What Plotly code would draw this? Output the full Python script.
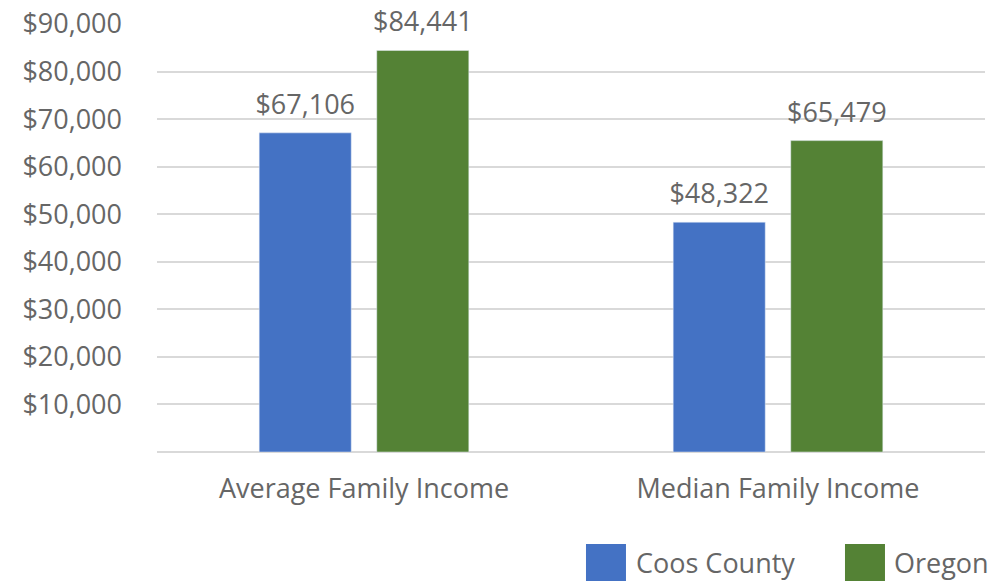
import plotly.graph_objects as go

categories = ["Average Family Income", "Median Family Income"]
series_names = ["Coos County", "Oregon"]
coos_values = [67106, 48322]
oregon_values = [84441, 65479]
colors = ["#4472C4", "#548235"]
tick_values = [10000, 20000, 30000, 40000, 50000, 60000, 70000, 80000, 90000]
tick_labels = ["$10,000", "$20,000", "$30,000", "$40,000", "$50,000",
               "$60,000", "$70,000", "$80,000", "$90,000"]

FONT = "Open Sans"
TEXT_COLOR = "#666666"
FS = 27

fig = go.Figure()
for i, (name, vals, col) in enumerate(zip(series_names, [coos_values, oregon_values], colors)):
    fig.add_trace(go.Bar(
        x=categories, y=vals, name=name, marker_color=col,
        offsetgroup=str(i), alignmentgroup="a",
        showlegend=False, hoverinfo="skip",
    ))
for i, vals in enumerate([coos_values, oregon_values]):
    fig.add_trace(go.Scatter(
        x=categories, y=vals, mode="markers+text",
        text=[f"${v:,}" for v in vals], textposition="top center",
        textfont=dict(family=FONT, size=FS, color=TEXT_COLOR),
        marker=dict(size=18, opacity=0),
        offsetgroup=str(i), alignmentgroup="a",
        cliponaxis=False, showlegend=False, hoverinfo="skip",
    ))

# Custom legend (large squares) built from the series lists
legend_box = [(0.5181, 0.5664), (0.8309, 0.8792)]
legend_text_x = [0.5761, 0.8877]
for name, col, (x0, x1), tx in zip(series_names, colors, legend_box, legend_text_x):
    fig.add_shape(type="rect", xref="paper", yref="paper",
                  x0=x0, x1=x1, y0=-0.3014, y1=-0.215,
                  fillcolor=col, line=dict(width=0), layer="above")
    fig.add_annotation(x=tx, y=-0.259, xref="paper", yref="paper",
                       text=name, showarrow=False, xanchor="left", yanchor="middle",
                       font=dict(family=FONT, size=FS, color=TEXT_COLOR))

fig.update_layout(
    width=995, height=581,
    margin=dict(l=157, r=10, t=24, b=129, autoexpand=False),
    paper_bgcolor="white", plot_bgcolor="white",
    barmode="group", bargap=0.432, bargroupgap=0.217,
    scattermode="group", scattergap=0.432,
    font=dict(family=FONT, color=TEXT_COLOR),
)
fig.update_yaxes(range=[0, 90000], tickvals=tick_values, ticktext=tick_labels,
                 showgrid=True, gridcolor="#D9D9D9", gridwidth=2,
                 zeroline=True, zerolinecolor="#D9D9D9", zerolinewidth=2,
                 tickfont=dict(family=FONT, size=FS, color=TEXT_COLOR),
                 ticklabelstandoff=34, showline=False, automargin=False)
fig.update_xaxes(tickfont=dict(family=FONT, size=FS, color=TEXT_COLOR),
                 ticklabelstandoff=18, showline=False, automargin=False)

fig.write_html("out.html", config={"displayModeBar": False},
               post_script="document.body.style.margin='0';document.body.style.padding='0';")
